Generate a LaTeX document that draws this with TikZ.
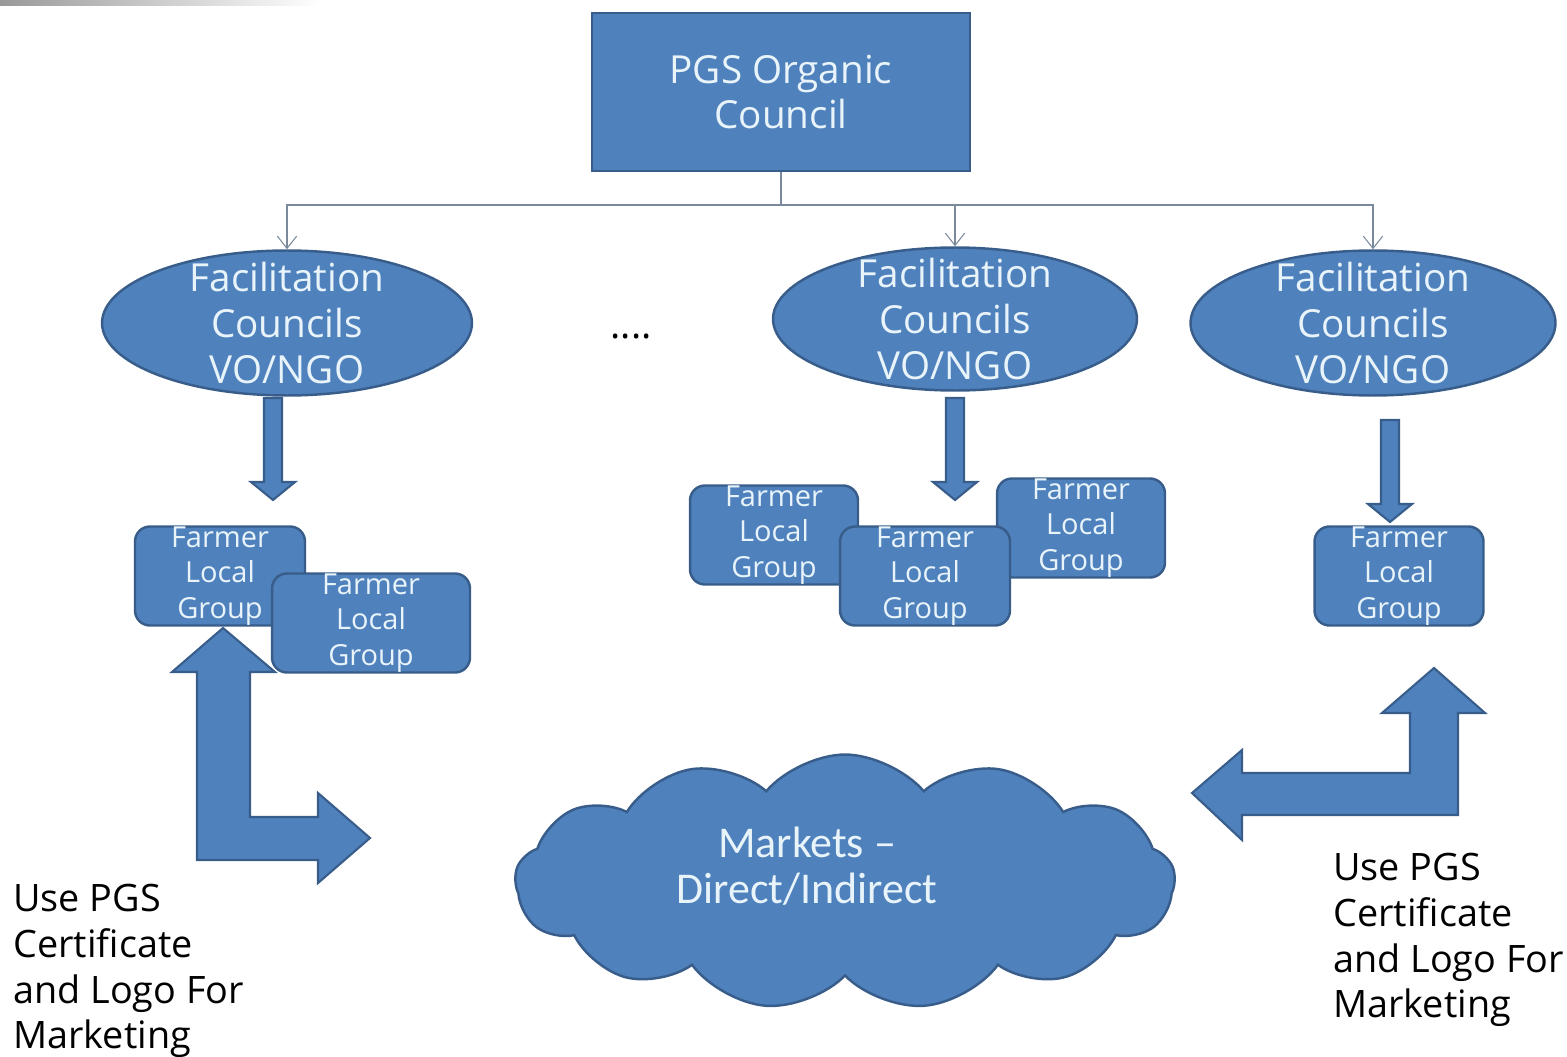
\documentclass[tikz,border=0pt]{standalone}
\usepackage{fontspec}
\setmainfont{Open Sans}
\newfontfamily\calfont{Carlito}
\usepackage{tikz}
\usetikzlibrary{shapes.geometric,shapes.symbols,arrows.meta,positioning}
\definecolor{pgsblue}{RGB}{79,129,189}
\definecolor{pgsedge}{RGB}{56,93,138}
\definecolor{pgstext}{RGB}{232,244,250}
\definecolor{linkgray}{RGB}{122,138,156}

\begin{document}
\begin{tikzpicture}[x=0.02cm, y=-0.02cm,
  box/.style={draw=pgsedge, fill=pgsblue, line width=1.4pt, text=pgstext, align=center, inner sep=0pt},
  council/.style={box, minimum width=7.56cm, minimum height=3.16cm, font=\fontsize{22}{26}\selectfont},
  facil/.style={box, ellipse, inner ysep=-8pt, minimum width=7.4cm, minimum height=2.9cm, font=\fontsize{22}{26}\selectfont},
  flg/.style={box, rounded corners=0.3cm, minimum width=3.4cm, minimum height=1.92cm, font=\fontsize{16.5}{20.3}\selectfont},
  link/.style={draw=linkgray, line width=0.6pt, -{Straight Barb[length=7pt,width=11pt]}},
  fat/.style={draw=pgsedge, fill=pgsblue, line width=1.2pt},
  note/.style={anchor=north west, align=left, inner sep=0pt, font=\fontsize{21.5}{26}\selectfont}]
\useasboundingbox (0,0) rectangle (1567,1057);
\shade[left color=black!40, right color=white] (0,0) rectangle (320,6);

% top of the tree
\node[council] (council) at (781,92) {PGS Organic\\Council};
\node[facil] (fc1) at (287,323) {Facilitation\\Councils\\VO/NGO};
\node[facil, minimum width=7.28cm, minimum height=2.86cm] (fc2) at (955,319) {Facilitation\\Councils\\VO/NGO};
\node[facil, minimum width=7.3cm] (fc3) at (1373,323) {Facilitation\\Councils\\VO/NGO};
\node[font=\fontsize{22}{26}\selectfont] (more) at (631,336) {....};

\coordinate (bus) at (781,205);
\draw[draw=linkgray, line width=0.6pt] (council.south) -- (bus);
\draw[link] (bus) -| (fc1.north);
\draw[link] (bus) -| (fc2.north);
\draw[link] (bus) -| (fc3.north);

% farmer local groups
\node[flg] (flA1) at (220,576) {Farmer\\Local\\Group};
\node[flg, minimum width=3.96cm, minimum height=1.9cm] (flA2) at (371,623) {Farmer\\Local\\Group};
\node[flg, minimum width=3.36cm] (flB1) at (774,535) {Farmer\\Local\\Group};
\node[flg, minimum width=3.36cm, minimum height=1.94cm] (flB3) at (1081,528) {Farmer\\Local\\Group};
\node[flg, minimum height=1.9cm] (flB2) at (925,576) {Farmer\\Local\\Group};
\node[flg, minimum width=3.38cm] (flC) at (1399,576) {Farmer\\Local\\Group};

% block arrows down
\draw[fat] (264,398) -- (282,398) -- (282,482) -- (295,482) -- (273,500) -- (251,482) -- (264,482) -- cycle;
\draw[fat] (946,398) -- (964,398) -- (964,482) -- (977,482) -- (955,500) -- (933,482) -- (946,482) -- cycle;
\draw[fat] (1381,420) -- (1399,420) -- (1399,504) -- (1412,504) -- (1390,522) -- (1368,504) -- (1381,504) -- cycle;

% bent arrows to and from the market
\draw[fat] (223,628) -- (275,672) -- (250,672) -- (250,817) -- (318,817) -- (318,793)
  -- (370,838) -- (318,883) -- (318,860) -- (197,860) -- (197,672) -- (172,672) -- cycle;
\draw[fat] (1434,668) -- (1485,713) -- (1458,713) -- (1458,815) -- (1242,815) -- (1242,840)
  -- (1192,793) -- (1242,750) -- (1242,773) -- (1410,773) -- (1410,713) -- (1382,713) -- cycle;

% market cloud
\node[cloud, draw=pgsedge, fill=pgsblue, line width=1.4pt, cloud puffs=13, cloud puff arc=100,
  cloud ignores aspect, minimum width=13.2cm, minimum height=5.1cm, inner sep=0pt] (market) at (845,882) {};
\node[text=pgstext, align=center, font=\calfont\fontsize{25}{26}\selectfont] (mktlabel) at (807,866) {Markets –\\Direct/Indirect};

% notes
\node[note] (useL) at (13,884) {Use PGS\\Certificate\\and Logo For\\Marketing};
\node[note] (useR) at (1333,853) {Use PGS\\Certificate\\and Logo For\\Marketing};
\end{tikzpicture}
\end{document}
